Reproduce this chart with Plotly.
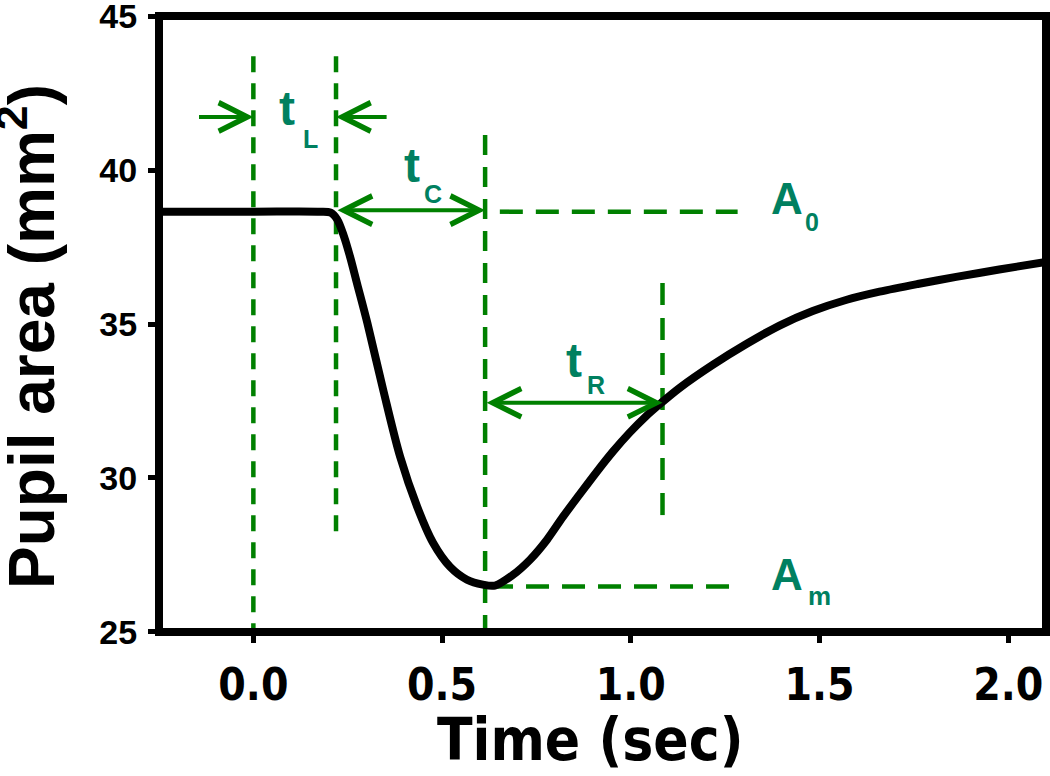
import plotly.graph_objects as go

# ---- data ----
time_s = [-0.25, 0.0, 0.17, 0.205, 0.222, 0.240, 0.257, 0.275, 0.302, 0.344, 0.389, 0.434,
          0.476, 0.521, 0.566, 0.608, 0.640, 0.688, 0.733, 0.778, 0.820, 0.865,
          0.910, 0.953, 0.997, 1.040, 1.081, 1.130, 1.218, 1.306, 1.394, 1.482,
          1.570, 1.659, 1.760, 1.862, 1.976, 2.1]
area_mm2 = [38.65, 38.65, 38.65, 38.62, 38.40, 37.85, 37.15, 36.30, 35.03, 32.86, 30.68, 29.06,
            27.89, 27.11, 26.69, 26.53, 26.50, 26.85, 27.34, 27.99, 28.73, 29.47,
            30.20, 30.86, 31.47, 32.00, 32.44, 32.93, 33.68, 34.35, 34.95, 35.42,
            35.78, 36.05, 36.30, 36.53, 36.77, 37.02]

# marker times / levels
t_stim = 0.0        # stimulus onset
t_onset = 0.219     # constriction onset
t_min = 0.614       # time of minimum
t_half = 1.084      # recovery point
A0 = 38.65
Am = 26.47

x_ticks = [0.0, 0.5, 1.0, 1.5, 2.0]
x_tick_text = ["0.0", "0.5", "1.0", "1.5", "2.0"]
y_ticks = [25, 30, 35, 40, 45]

LINE_G = "rgb(0,128,0)"
TEXT_G = "rgb(0,128,96)"

fig = go.Figure()

# guide lines
def vline(x, y0, y1, dash):
    fig.add_trace(go.Scatter(x=[x, x], y=[y1, y0], mode="lines",
                             line=dict(color=LINE_G, width=4.5, dash=dash),
                             hoverinfo="skip", showlegend=False))

def hline(y, x0, x1, dash):
    fig.add_trace(go.Scatter(x=[x0, x1], y=[y, y], mode="lines",
                             line=dict(color=LINE_G, width=4.5, dash=dash),
                             hoverinfo="skip", showlegend=False))

vline(t_stim, 25, 43.7, "16px,11px")
vline(t_onset, 28.05, 43.7, "16px,11px")
vline(t_min, 25, 41.14, "20px,12px")
vline(t_half, 28.54, 36.33, "22px,13px")
hline(A0, 0.653, 1.283, "23px,13px")
hline(Am, 0.627, 1.283, "23px,13px")

# main curve
fig.add_trace(go.Scatter(x=time_s, y=area_mm2, mode="lines",
                         line=dict(color="black", width=8, shape="spline", smoothing=0.9),
                         showlegend=False))

# arrows
arrow_common = dict(xref="x", yref="y", axref="x", ayref="y", text="",
                    showarrow=True, arrowcolor=LINE_G, arrowwidth=4,
                    arrowhead=5, arrowsize=1.4, standoff=0, startstandoff=0)
y_tL = 41.73
fig.add_annotation(x=t_stim, y=y_tL, ax=-0.148, ay=y_tL, **arrow_common)
fig.add_annotation(x=t_onset, y=y_tL, ax=0.357, ay=y_tL, **arrow_common)
fig.add_annotation(x=t_min, y=38.7, ax=t_onset, ay=38.7, arrowside="end+start",
                   startarrowhead=5, startarrowsize=1.4, **arrow_common)
fig.add_annotation(x=t_half, y=32.44, ax=t_min, ay=32.44, arrowside="end+start",
                   startarrowhead=5, startarrowsize=1.4, **arrow_common)

# labels (main letter + subscript)
labels = [
    ("t", 0.0635, 42.0, 48), ("L", 0.127, 41.02, 25),
    ("t", 0.394, 40.15, 48), ("C", 0.447, 39.23, 25),
    ("t", 0.823, 33.82, 48), ("R", 0.878, 33.03, 25),
    ("A", 1.365, 39.07, 44), ("0", 1.455, 38.32, 25),
    ("A", 1.365, 26.86, 44), ("m", 1.463, 26.15, 26),
]
for txt, lx, ly, fs in labels:
    fig.add_annotation(x=lx, y=ly, xref="x", yref="y", text=txt, showarrow=False,
                       xanchor="left", yanchor="middle",
                       font=dict(family="Liberation Sans", size=fs, color=TEXT_G, weight="bold"))

# axis titles
fig.add_annotation(text="Pupil area (mm<sup>2</sup>)", xref="paper", yref="paper",
                   x=-0.1488, y=0.479, xanchor="center", yanchor="middle",
                   textangle=-90, showarrow=False,
                   font=dict(family="Liberation Sans", size=64, color="black", weight="bold"))
fig.add_annotation(text="Time (sec)", xref="paper", yref="paper",
                   x=0.486, y=-0.175, xanchor="center", yanchor="middle",
                   showarrow=False,
                   font=dict(family="DejaVu Sans Condensed", size=58, color="black", weight="bold"))

# frame
fig.add_shape(type="rect", xref="paper", yref="paper", x0=0, x1=1, y0=0, y1=1,
              line=dict(color="black", width=8), layer="above")

fig.update_layout(
    width=1050, height=776,
    margin=dict(l=159, r=4, t=16, b=144, autoexpand=False),
    plot_bgcolor="white", paper_bgcolor="white",
    xaxis=dict(range=[-0.25, 2.1], tickvals=x_ticks, ticktext=x_tick_text,
               showgrid=False, zeroline=False, showline=False, automargin=False,
               ticks="outside", ticklen=10, tickwidth=5, tickcolor="black",
               ticklabelstandoff=4,
               tickfont=dict(family="DejaVu Sans Condensed", size=44, color="black", weight="bold")),
    yaxis=dict(range=[24.99, 45.01], tickvals=y_ticks,
               showgrid=False, zeroline=False, showline=False, automargin=False,
               ticks="outside", ticklen=10, tickwidth=5, tickcolor="black",
               ticklabelstandoff=4, ticklabeloverflow="allow",
               tickfont=dict(family="Liberation Sans", size=34, color="black", weight="bold")),
)

fig.write_html("out.html", config={"displayModeBar": False},
               post_script="document.body.style.margin='0';")
